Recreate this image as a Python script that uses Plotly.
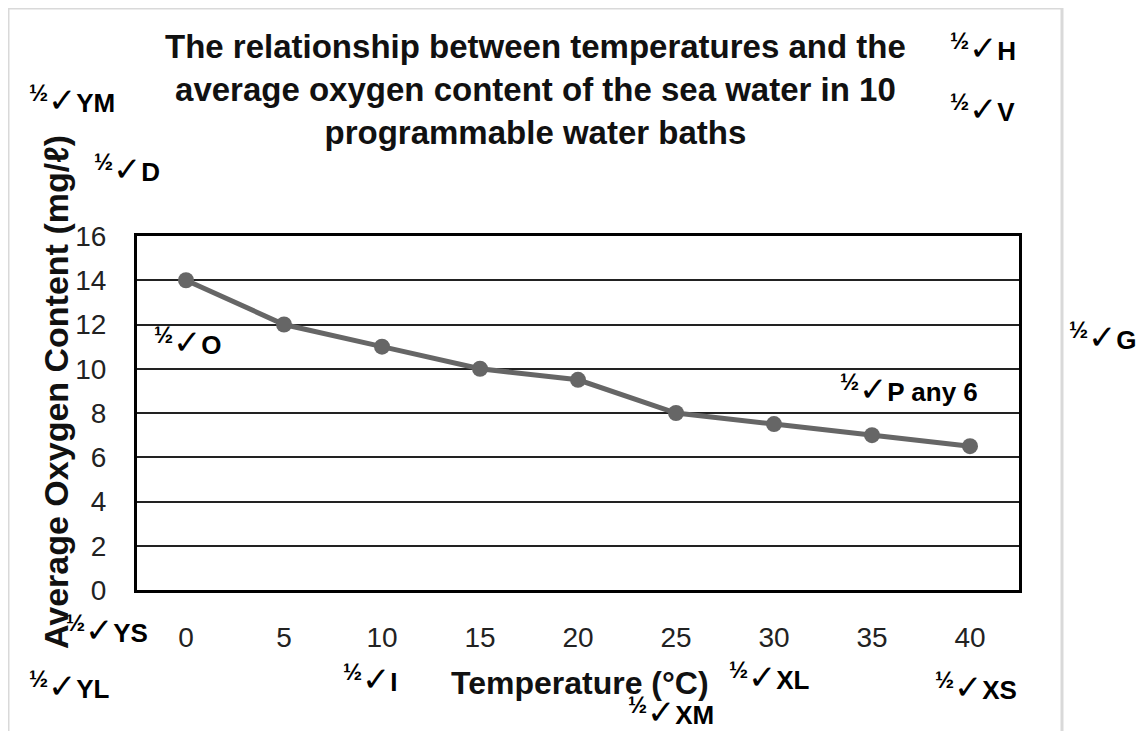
import plotly.graph_objects as go

temperatures = ["0", "5", "10", "15", "20", "25", "30", "35", "40"]
oxygen = [14, 12, 11, 10, 9.5, 8, 7.5, 7, 6.5]
y_ticks = [0, 2, 4, 6, 8, 10, 12, 14, 16]

marks = [
    ("H", 948, 47), ("V", 948, 108), ("YM", 27, 99), ("D", 92, 168),
    ("O", 152, 341), ("G", 1067, 336), ("P any 6", 838, 388),
    ("YS", 64, 629), ("I", 341, 678), ("YL", 27, 685), ("XL", 727, 676),
    ("XM", 626, 711), ("XS", 933, 686),
]

OFF = 8  # default page margin of the html body
W, H = 1148 - OFF, 731 - OFF
L, R, T, B = 137 - OFF, 1019 - OFF, 236 - OFF, 590 - OFF


def px(x):
    return (x - OFF - L) / (R - L)


def py(y):
    return (B - (y - OFF)) / (B - T)


fig = go.Figure()
fig.add_trace(go.Scatter(
    x=temperatures, y=oxygen, mode="lines+markers",
    line=dict(color="#666666", width=5),
    marker=dict(color="#666666", size=16),
    showlegend=False,
))

annotations = []
for label, x, y in marks:
    annotations.append(dict(
        text="<sup><span style='font-size:23px'><b>½</b></span></sup><span style='font-size:34px'>✓</span><b>" + label + "</b>",
        x=px(x), y=py(y), xref="paper", yref="paper",
        xanchor="left", yanchor="middle", showarrow=False,
        font=dict(family="Liberation Sans, Arial", size=26, color="black"),
    ))

annotations.append(dict(
    text="<b>The relationship between temperatures and the<br>average oxygen content of the sea water in 10<br>programmable water baths</b>",
    x=px(535), y=py(90), xref="paper", yref="paper",
    xanchor="center", yanchor="middle", showarrow=False,
    font=dict(family="Liberation Sans, Arial", size=33, color="#111111"),
))
annotations.append(dict(
    text="<b>Temperature (°C)</b>",
    x=px(580), y=py(683), xref="paper", yref="paper",
    xanchor="center", yanchor="middle", showarrow=False,
    font=dict(family="Liberation Sans, Arial", size=32, color="#111111"),
))
annotations.append(dict(
    text="<b>Average Oxygen Content (mg/ℓ)</b>",
    x=px(56), y=py(392), xref="paper", yref="paper",
    xanchor="center", yanchor="middle", showarrow=False, textangle=-90,
    font=dict(family="Liberation Sans, Arial", size=34, color="#111111"),
))

fig.update_layout(
    width=W, height=H,
    margin=dict(l=L, r=W - R, t=T, b=H - B),
    paper_bgcolor="white", plot_bgcolor="white",
    annotations=annotations,
    font=dict(family="Liberation Sans, Arial", color="black"),
    shapes=[dict(type="rect", xref="paper", yref="paper",
                 x0=px(8), x1=px(1062), y0=py(760), y1=py(8),
                 line=dict(color="#d9d9d9", width=3), layer="below")],
)

fig.update_xaxes(
    type="category", range=[-0.5, 8.5],
    showline=True, linecolor="black", linewidth=3, mirror=True,
    showgrid=False, ticks="", ticklabelstandoff=20,
    tickfont=dict(size=28, color="#222222"),
)
fig.update_yaxes(
    range=[0, 16], tickvals=y_ticks,
    showline=True, linecolor="black", linewidth=3, mirror=True,
    showgrid=True, gridcolor="#222222", gridwidth=1.5,
    ticks="", ticklabelstandoff=22,
    tickfont=dict(size=28, color="#222222"),
    zeroline=False,
)

fig.write_html("out.html")
